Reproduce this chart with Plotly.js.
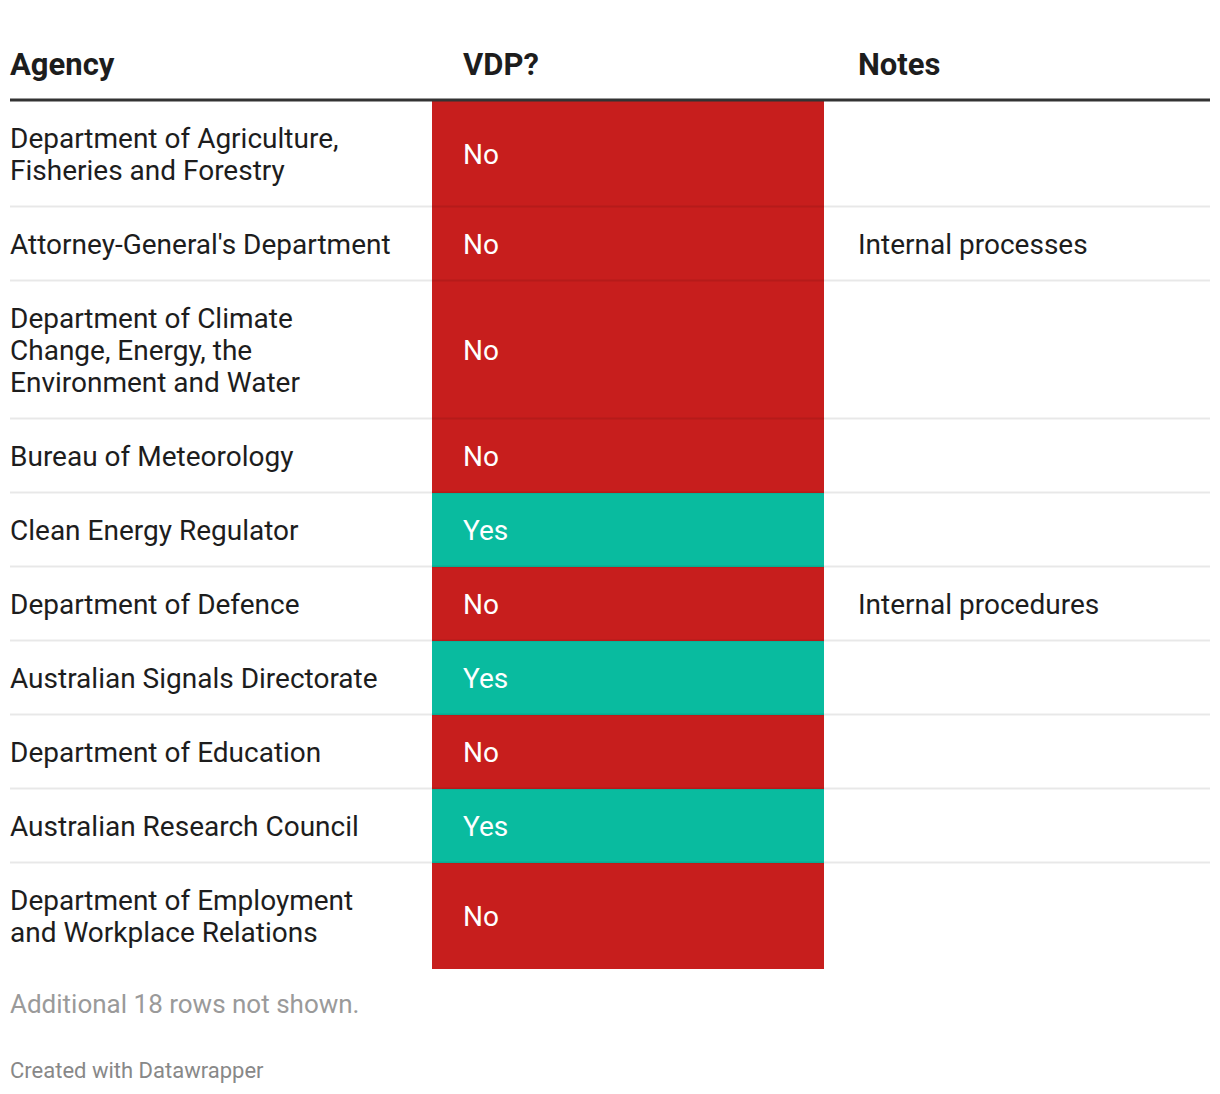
<!DOCTYPE html>
<html>
<head>
<meta charset="utf-8">
<script src="https://cdn.plot.ly/plotly-3.0.1.min.js"></script>
<style>html,body{margin:0;padding:0;background:#fff;}#chart{width:1220px;height:1094px;}</style>
</head>
<body>
<div id="chart"></div>
<script>
const headers = ["Agency", "VDP?", "Notes"];
const agencies = [
  "Department of Agriculture,<br>Fisheries and Forestry",
  "Attorney-General's Department",
  "Department of Climate<br>Change, Energy, the<br>Environment and Water",
  "Bureau of Meteorology",
  "Clean Energy Regulator",
  "Department of Defence",
  "Australian Signals Directorate",
  "Department of Education",
  "Australian Research Council",
  "Department of Employment<br>and Workplace Relations"
];
const vdp = ["No", "No", "No", "No", "Yes", "No", "Yes", "No", "Yes", "No"];
const notes = ["", "Internal processes", "", "", "", "Internal procedures", "", "", "", ""];
const footnote = "Additional 18 rows not shown.";
const credit = "Created with Datawrapper";

// layout (pixel units)
const W = 1220, H = 1094;
const tableLeft = 10, tableRight = 1210;
const colX = [10, 432, 824];       // column left edges
const colPad = [0, 31, 34];
const textShift = -1, textDrop = 1;
const headerY = 64, headerLineY = 100;
const topRow = 100.5;
const lineH = 32, rowPad = 42;
const FONT = "Roboto, 'Open Sans', sans-serif";
const colorMap = {"No": "#c71e1d", "Yes": "#09bb9f"};

const lines = agencies.map(a => a.split("<br>"));
const heights = lines.map(l => rowPad + lineH * l.length);
const tops = [];
let acc = topRow;
heights.forEach(h => { tops.push(acc); acc += h; });
const mids = tops.map((t, i) => t + heights[i] / 2 + textDrop);

const traces = [{
  type: "bar",
  orientation: "v",
  x: vdp.map(() => (colX[1] + colX[2]) / 2),
  y: heights,
  base: tops,
  width: colX[2] - colX[1],
  marker: {color: vdp.map(v => colorMap[v]), line: {width: 0}},
  hoverinfo: "skip",
  showlegend: false
}];

function txt(x, y, text, size, color) {
  return {xref: "x", yref: "y", x: x + textShift, y: y, text: text, showarrow: false, borderpad: 0,
    xanchor: "left", yanchor: "middle", align: "left", font: {family: FONT, size: size, color: color}};
}

const annotations = [];
headers.forEach((h, i) => annotations.push(txt(colX[i] + colPad[i], headerY, "<b>" + h + "</b>", 31, "#1d1d1d")));
lines.forEach((ls, i) => {
  ls.forEach((l, j) => {
    const y = mids[i] + (j - (ls.length - 1) / 2) * lineH;
    annotations.push(txt(colX[0] + colPad[0], y, l, 28, "#1d1d1d"));
  });
  annotations.push(txt(colX[1] + colPad[1], mids[i], vdp[i], 28, "#ffffff"));
  if (notes[i]) annotations.push(txt(colX[2] + colPad[2], mids[i], notes[i], 28, "#1d1d1d"));
});
annotations.push(txt(tableLeft, acc + 35, footnote, 26, "#9a9a9a"));
annotations.push(txt(tableLeft, acc + 102, credit, 22, "#888888"));

const shapes = [];
tops.slice(1).forEach(t => shapes.push({type: "line", xref: "x", yref: "y", x0: tableLeft, x1: tableRight, y0: t, y1: t,
  line: {color: "rgba(0,0,0,0.09)", width: 2}, layer: "above"}));
shapes.push({type: "line", xref: "x", yref: "y", x0: tableLeft, x1: tableRight, y0: headerLineY, y1: headerLineY,
  line: {color: "#333333", width: 3}, layer: "above"});

const layout = {
  width: W, height: H,
  margin: {l: 0, r: 0, t: 0, b: 0, pad: 0},
  paper_bgcolor: "#ffffff", plot_bgcolor: "#ffffff",
  xaxis: {range: [0, W], visible: false, fixedrange: true},
  yaxis: {range: [H, 0], visible: false, fixedrange: true},
  bargap: 0,
  showlegend: false,
  annotations: annotations,
  shapes: shapes,
  font: {family: FONT}
};
Plotly.newPlot("chart", traces, layout, {displayModeBar: false, staticPlot: true});
</script>
</body>
</html>
